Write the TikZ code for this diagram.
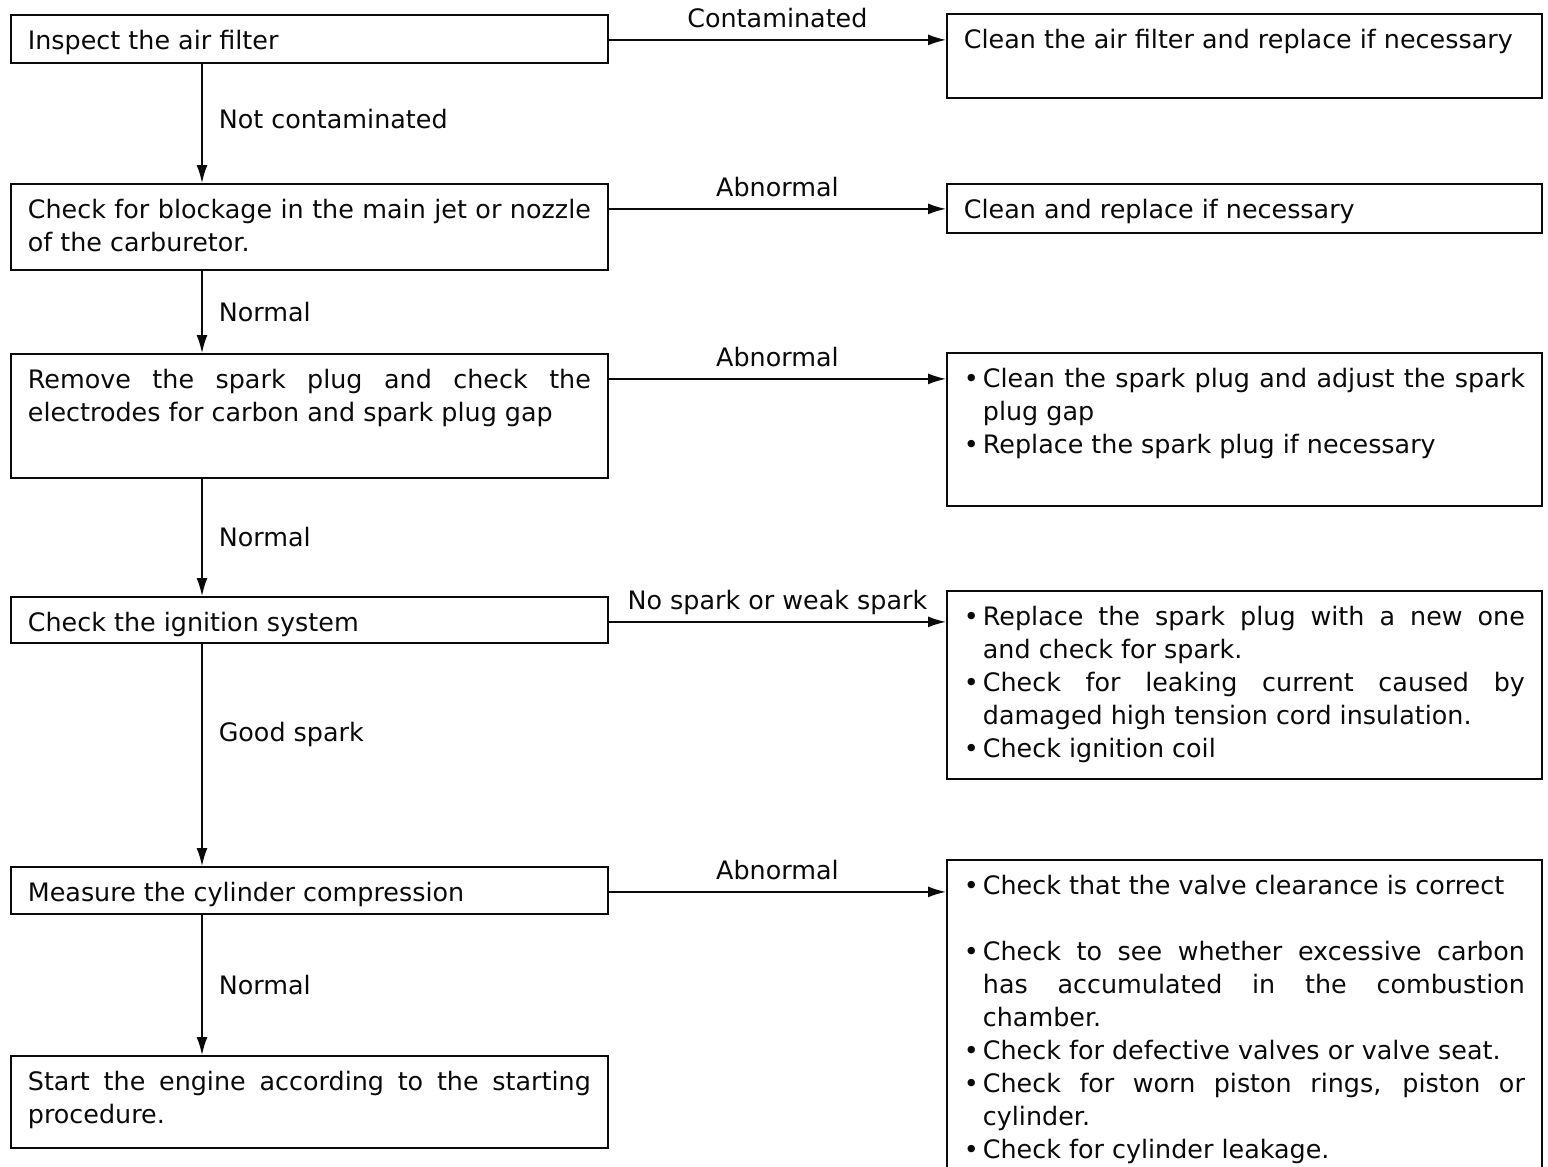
\documentclass[tikz,border=0pt]{standalone}
\usepackage{fontspec}
\setmainfont{DejaVu Sans}
\usepackage{tikz}
\usetikzlibrary{arrows.meta,calc,positioning}
\definecolor{ink}{rgb}{0.04,0.04,0.04}
\hyphenpenalty=10000
\exhyphenpenalty=10000
\newcommand{\itm}{\hangindent=9.5pt\hangafter=1\noindent\makebox[9.5pt][l]{\textbullet}}

\begin{document}
\begin{tikzpicture}[x=0.5pt,y=-0.5pt,
    font=\fontsize{12.7}{16.5}\selectfont,
    stepbox/.style={draw=ink,text=ink,line width=0.9pt,anchor=north west,
      inner xsep=8.5pt,inner ysep=0pt,text height=17.5pt,align=justify},
    lbox/.style={stepbox,text width=281.5pt},
    rbox/.style={stepbox,text width=280.5pt},
    flow/.style={draw=ink,line width=0.75pt,-{Latex[length=9pt,width=5.5pt]}},
    lab/.style={text=ink,inner sep=0pt}]
  \useasboundingbox (0,0) rectangle (1548,1167);
  \clip (0,0) rectangle (1548,1167);
  \coordinate (spine) at (202,0);

  % checks, left column
  \node[lbox,text depth=6.5pt] (air) at (10,14) {Inspect the air filter};
  \node[lbox,text depth=25.5pt] (jet) at (10,183)
    {Check for blockage in the main jet or nozzle\linebreak of the carburetor.};
  \node[lbox,text depth=44.5pt] (plug) at (10,353)
    {Remove the spark plug and check the\linebreak electrodes for carbon and spark plug gap};
  \node[lbox,text depth=5.5pt] (ign) at (10,596) {Check the ignition system};
  \node[lbox,text depth=6pt] (comp) at (10,866) {Measure the cylinder compression};
  \node[lbox,text depth=28.5pt] (start) at (10,1055)
    {Start the engine according to the starting\linebreak procedure.};

  % remedies, right column
  \node[rbox,text depth=24.5pt] (airfix) at (946,13)
    {Clean the air filter and replace if necessary};
  \node[rbox,text depth=7pt] (jetfix) at (946,183) {Clean and replace if necessary};
  \node[rbox,text depth=59pt] (plugfix) at (946,352)
    {\itm Clean the spark plug and adjust the spark\linebreak plug gap\par
     \itm Replace the spark plug if necessary};
  \node[rbox,text depth=76.5pt] (ignfix) at (946,590)
    {\itm Replace the spark plug with a new one\linebreak and check for spark.\par
     \itm Check for leaking current caused by\linebreak damaged high tension cord insulation.\par
     \itm Check ignition coil};
  \node[rbox,text depth=143pt] (compfix) at (946,859)
    {\itm Check that the valve clearance is correct\par\vskip16.5pt
     \itm Check to see whether excessive carbon\linebreak has accumulated in the combustion\linebreak chamber.\par
     \itm Check for defective valves or valve seat.\par
     \itm Check for worn piston rings, piston or\linebreak cylinder.\par
     \itm Check for cylinder leakage.};

  % faults to the right
  \foreach \a/\b/\txt in {air/airfix/Contaminated, jet/jetfix/Abnormal,
      plug/plugfix/Abnormal, ign/ignfix/No spark or weak spark, comp/compfix/Abnormal}{
    \draw[flow] ([yshift=5pt]\a.base east) -- ([yshift=5pt]\a.base east -| \b.west)
      node[lab,midway,anchor=base,yshift=6pt] {\txt};}

  % next step downwards
  \foreach \a/\b/\p/\txt in {air/jet/0.46/Not contaminated, jet/plug/0.5/Normal,
      plug/ign/0.5/Normal, ign/comp/0.41/Good spark, comp/start/0.5/Normal}{
    \draw[flow] (\a.south -| spine) -- (\b.north -| spine)
      node[lab,pos=\p,anchor=west,xshift=8pt] {\txt};}
\end{tikzpicture}
\end{document}
